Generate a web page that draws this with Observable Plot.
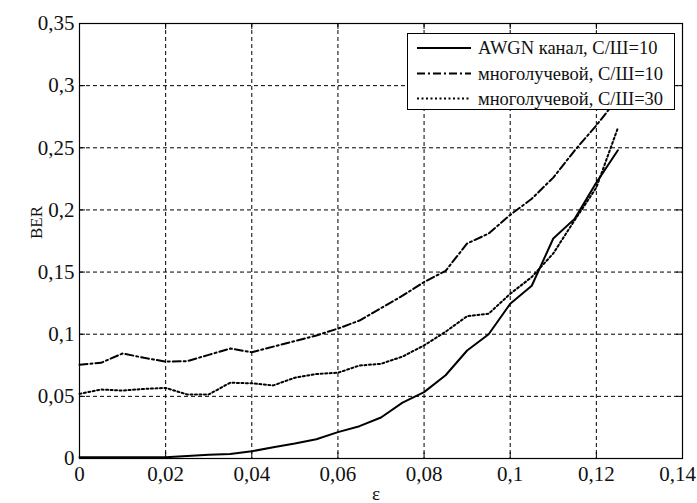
<!DOCTYPE html>
<html>
<head>
<meta charset="utf-8">
<script src="https://cdn.jsdelivr.net/npm/d3@7"></script>
<script src="https://cdn.jsdelivr.net/npm/@observablehq/plot@0.6"></script>
<style>
  html, body { margin: 0; padding: 0; background: #fff; }
  #wrap { position: relative; width: 697px; height: 503px; overflow: hidden; }
  #legend { position: absolute; left: 0; top: 0; }
</style>
</head>
<body>
<div id="wrap"></div>
<script>
// ---- data ----
const eps = [0, 0.005, 0.01, 0.015, 0.02, 0.025, 0.03, 0.035, 0.04, 0.045, 0.05, 0.055, 0.06,
             0.065, 0.07, 0.075, 0.08, 0.085, 0.09, 0.095, 0.1, 0.105, 0.11, 0.115, 0.12, 0.125];
const berAwgn10 = [0.001, 0.001, 0.001, 0.001, 0.001, 0.002, 0.003, 0.0037, 0.0058, 0.009, 0.012, 0.0155, 0.0212,
                   0.026, 0.033, 0.045, 0.0534, 0.067, 0.0869, 0.1, 0.1245, 0.139, 0.177, 0.193, 0.222, 0.248];
const berMulti10 = [0.0755, 0.077, 0.0845, 0.081, 0.078, 0.0783, 0.0834, 0.0885, 0.0855, 0.090, 0.0945, 0.099, 0.1045,
                    0.111, 0.121, 0.131, 0.142, 0.151, 0.173, 0.181, 0.196, 0.209, 0.226, 0.248, 0.268, 0.29];
const berMulti30 = [0.052, 0.0555, 0.0547, 0.056, 0.0568, 0.0515, 0.0515, 0.061, 0.0605, 0.0588, 0.065, 0.068, 0.069,
                    0.0748, 0.0762, 0.082, 0.091, 0.102, 0.1145, 0.1165, 0.1325, 0.146, 0.165, 0.192, 0.218, 0.266];
const seriesNames = ["AWGN канал, С/Ш=10", "многолучевой, С/Ш=10", "многолучевой, С/Ш=30"];
const xTicks = [0, 0.02, 0.04, 0.06, 0.08, 0.1, 0.12, 0.14];
const xTickLabels = ["0", "0,02", "0,04", "0,06", "0,08", "0,1", "0,12", "0,14"];
const yTicks = [0, 0.05, 0.1, 0.15, 0.2, 0.25, 0.3, 0.35];
const yTickLabels = ["0", "0,05", "0,1", "0,15", "0,2", "0,25", "0,3", "0,35"];
const xLabel = "ε";
const yLabel = "BER";

// ---- styles ----
const W = 697, H = 503;
const mL = 79, mR = 15, mT = 23, mB = 45;
const innerH = H - mT - mB, innerW = W - mL - mR;
const FONT = "'Liberation Serif', 'Times New Roman', serif";
const styles = [
  {stroke: "#000", strokeWidth: 2, dash: null},
  {stroke: "#000", strokeWidth: 2, dash: "8,3,2,3"},
  {stroke: "#000", strokeWidth: 2, dash: "2,2.5"}
];
const seriesValues = [berAwgn10, berMulti10, berMulti30];
const table = seriesValues.map(vals => eps.map((x, i) => ({x, y: vals[i]})));

const fmtX = d => xTickLabels[xTicks.findIndex(t => Math.abs(t - d) < 1e-9)];
const fmtY = d => yTickLabels[yTicks.findIndex(t => Math.abs(t - d) < 1e-9)];

const chart = Plot.plot({
  width: W, height: H,
  marginLeft: mL, marginRight: mR, marginTop: mT, marginBottom: mB,
  style: {fontFamily: FONT, fontSize: "21px", color: "#111", background: "#fff"},
  x: {domain: [0, 0.14]},
  y: {domain: [0, 0.35]},
  marks: [
    Plot.ruleX(xTicks.slice(1, -1), {x: d => d, stroke: "#000", strokeWidth: 1, strokeDasharray: "4,3"}),
    Plot.ruleY(yTicks.slice(1, -1), {y: d => d, stroke: "#000", strokeWidth: 1, strokeDasharray: "4,3"}),
    Plot.tickX(xTicks, {x: d => d, insetTop: innerH - 6, stroke: "#000"}),
    Plot.tickX(xTicks, {x: d => d, insetBottom: innerH - 6, stroke: "#000"}),
    Plot.tickY(yTicks, {y: d => d, insetRight: innerW - 6, stroke: "#000"}),
    Plot.tickY(yTicks, {y: d => d, insetLeft: innerW - 6, stroke: "#000"}),
    ...table.map((data, k) => Plot.line(data, {
      x: "x", y: "y", stroke: styles[k].stroke, strokeWidth: styles[k].strokeWidth,
      strokeDasharray: styles[k].dash, strokeLinejoin: "round"
    })),
    Plot.frame({stroke: "#000", strokeWidth: 1.2}),
    Plot.axisX(xTicks.slice(0, -1), {tickSize: 0, tickPadding: 8, tickFormat: fmtX, fontSize: 21, fontFamily: FONT, label: null}),
    Plot.axisX(xTicks.slice(-1), {tickSize: 0, tickPadding: 8, tickFormat: fmtX, fontSize: 21, fontFamily: FONT, label: null, dx: -5}),
    Plot.axisY(yTicks, {tickSize: 0, tickPadding: 5, tickFormat: fmtY, fontSize: 21, fontFamily: FONT, label: null}),
    Plot.text([yLabel], {frameAnchor: "left", dx: -43, dy: -2, rotate: -90, fontSize: 17, fontFamily: FONT, lineAnchor: "middle"}),
    Plot.text([xLabel], {frameAnchor: "bottom", dx: -5, dy: 35, fontSize: 19, fontFamily: FONT, lineAnchor: "middle"})
  ]
});
const wrap = document.getElementById("wrap");
wrap.appendChild(chart);

// ---- legend overlay (drawn on top of the plot) ----
const lg = d3.select(wrap).append("svg").attr("id", "legend")
  .attr("width", W).attr("height", H)
  .style("pointer-events", "none");
const box = {x: 407.5, y: 33.5, w: 267, h: 76};
lg.append("rect").attr("x", box.x).attr("y", box.y).attr("width", box.w).attr("height", box.h)
  .attr("fill", "#fff").attr("stroke", "#000").attr("stroke-width", 1);
const rowY = [48, 73.5, 98.5];
seriesNames.forEach((name, k) => {
  lg.append("line").attr("x1", 417).attr("x2", 471).attr("y1", rowY[k]).attr("y2", rowY[k])
    .attr("stroke", styles[k].stroke).attr("stroke-width", styles[k].strokeWidth)
    .attr("stroke-dasharray", styles[k].dash);
  lg.append("text").attr("x", 478).attr("y", rowY[k]).attr("dy", "0.35em")
    .attr("font-family", FONT)
    .attr("font-size", 18.5).attr("fill", "#111").text(name);
});
</script>
</body>
</html>
